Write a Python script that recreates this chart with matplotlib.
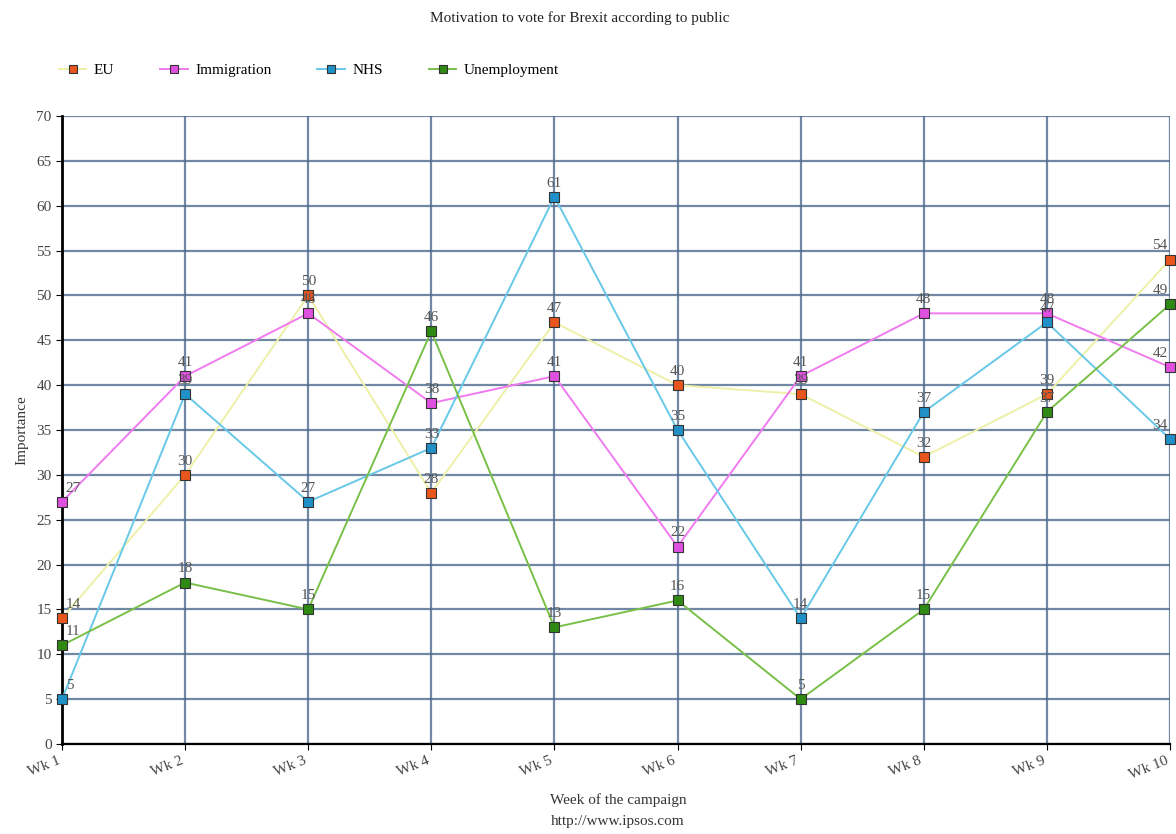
import matplotlib
matplotlib.use("Agg")
import matplotlib.pyplot as plt

weeks = ["Wk 1", "Wk 2", "Wk 3", "Wk 4", "Wk 5", "Wk 6", "Wk 7", "Wk 8", "Wk 9", "Wk 10"]
eu = [14, 30, 50, 28, 47, 40, 39, 32, 39, 54]
immigration = [27, 41, 48, 38, 41, 22, 41, 48, 48, 42]
nhs = [5, 39, 27, 33, 61, 35, 14, 37, 47, 34]
unemployment = [11, 18, 15, 46, 13, 16, 5, 15, 37, 49]

series = [
    ("EU", eu, "#eef0a8", "#e8561e"),
    ("Immigration", immigration, "#f07af0", "#e050e0"),
    ("NHS", nhs, "#68c8e8", "#2090c8"),
    ("Unemployment", unemployment, "#78c048", "#2e8a12"),
]

plt.rcParams["font.family"] = ["Liberation Serif", "DejaVu Serif"]

fig = plt.figure(figsize=(11.76, 8.34), dpi=100)
ax = fig.add_axes([62 / 1176, 1 - 744 / 834, (1170 - 62) / 1176, (744 - 116) / 834])

x = list(range(len(weeks)))
for name, vals, lc, mc in series:
    ax.plot(x, vals, color=lc, lw=1.4, marker="s", ms=6.5, mfc=mc, mec="#333333",
            mew=0.8, label=name, zorder=3, clip_on=False)
    for i, v in enumerate(vals):
        if i == 0:
            ha, dx = "left", 0.03
        elif i == len(vals) - 1:
            ha, dx = "right", -0.02
        else:
            ha, dx = "center", 0
        ax.text(i + dx, v + 0.8, str(v), ha=ha, va="bottom", fontsize=11,
                color="#555555", zorder=4)

ax.set_xlim(0, len(weeks) - 1)
ax.set_ylim(0, 70)
ax.set_yticks(range(0, 71, 5))
ax.set_xticks(x)
ax.set_xticklabels(weeks, rotation=22, ha="right", fontsize=11, color="#444444")
ax.tick_params(axis="y", labelsize=11, labelcolor="#444444", length=4)
ax.tick_params(axis="x", length=4)
ax.grid(True, color="#4d6a8e", lw=1.6, alpha=0.8, zorder=0)
ax.set_axisbelow(True)
for s in ["top", "right"]:
    ax.spines[s].set_visible(False)
ax.spines["left"].set_linewidth(2)
ax.spines["bottom"].set_linewidth(1.6)

ax.set_ylabel("Importance", fontsize=11, color="#333333", labelpad=6)
fig.text(580 / 1176, 1 - 18 / 834, "Motivation to vote for Brexit according to public",
         ha="center", va="center", fontsize=11, color="#222222")
fig.text(618 / 1176, 1 - 800 / 834, "Week of the campaign", ha="center", va="center",
         fontsize=11, color="#333333")
fig.text(618 / 1176, 1 - 822 / 834, "http://www.ipsos.com", ha="center", va="center",
         fontsize=11, color="#333333")

fig.legend(loc="center left", bbox_to_anchor=(45 / 1176, 1 - 70 / 834), ncol=4,
           frameon=False, fontsize=11, handlelength=1.8, columnspacing=3.0,
           handletextpad=0.5, markerscale=0.8)

fig.savefig("out.png", dpi=100)
